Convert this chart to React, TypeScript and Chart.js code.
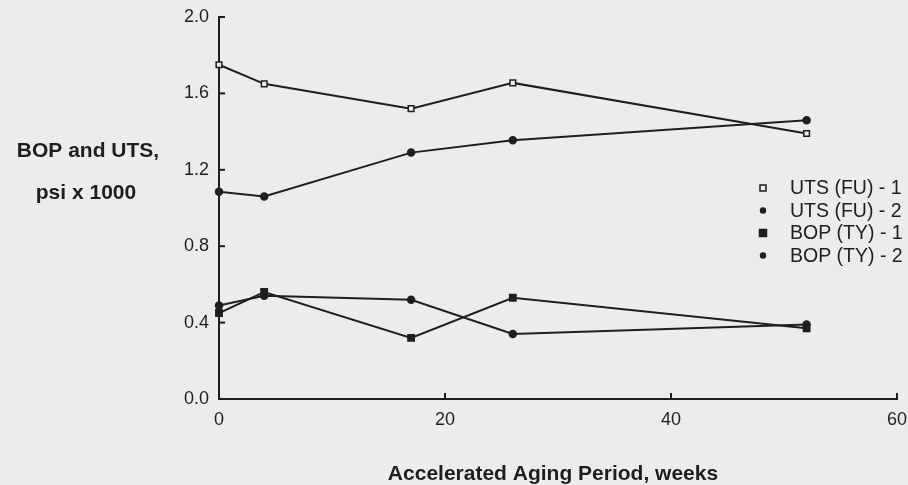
import React, { useEffect, useRef } from "react";
import { Chart, registerables } from "chart.js";

Chart.register(...registerables);

const weeks = [0, 4, 17, 26, 52];
const utsFu1 = [1.75, 1.65, 1.52, 1.655, 1.39];
const utsFu2 = [1.085, 1.06, 1.29, 1.355, 1.46];
const bopTy1 = [0.45, 0.56, 0.32, 0.53, 0.37];
const bopTy2 = [0.49, 0.54, 0.52, 0.34, 0.39];
const seriesLabels = ["UTS (FU) - 1", "UTS (FU) - 2", "BOP (TY) - 1", "BOP (TY) - 2"];
const xTicks = [0, 20, 40, 60];
const yTicks = [0, 0.4, 0.8, 1.2, 1.6, 2.0];
const yTitle = ["BOP and UTS,", "psi x 1000"];
const xTitle = "Accelerated Aging Period, weeks";

const INK = "#1e1e1e";
const BG = "#eeecea";
const FONT = "'Liberation Sans', Arial, sans-serif";

export default function App() {
  const ref = useRef<HTMLCanvasElement | null>(null);
  useEffect(() => {
    if (!ref.current) return;
    const mk = (vals: number[]) => weeks.map((w, i) => ({ x: w, y: vals[i] }));
    const styles = [
      { ps: "rect", fill: BG, r: 4 },
      { ps: "circle", fill: INK, r: 3.5 },
      { ps: "rect", fill: INK, r: 4.5 },
      { ps: "circle", fill: INK, r: 3.5 },
    ];
    const all = [utsFu1, utsFu2, bopTy1, bopTy2];
    const datasets = all.map((vals, i) => ({
      label: seriesLabels[i],
      data: mk(vals),
      borderColor: INK,
      borderWidth: 2,
      pointStyle: styles[i].ps as any,
      pointRadius: styles[i].r,
      pointBackgroundColor: styles[i].fill,
      pointBorderColor: INK,
      pointBorderWidth: 1.5,
      showLine: true,
      fill: false,
      tension: 0,
      clip: false as any,
    }));

    const deco = {
      id: "deco",
      beforeDraw(chart: any) {
        const c = chart.ctx;
        c.save();
        c.fillStyle = BG;
        c.fillRect(0, 0, chart.width, chart.height);
        c.restore();
      },
      afterDraw(chart: any) {
        const c = chart.ctx;
        const xs = chart.scales.x;
        const ys = chart.scales.y;
        const area = chart.chartArea;
        c.save();
        c.strokeStyle = INK;
        c.lineWidth = 2;
        // inward tick marks
        yTicks.forEach((v) => {
          const py = ys.getPixelForValue(v);
          c.beginPath();
          c.moveTo(area.left - 1, py);
          c.lineTo(area.left + 6, py);
          c.stroke();
        });
        xTicks.forEach((v) => {
          const px = xs.getPixelForValue(v);
          c.beginPath();
          c.moveTo(px, area.bottom + 1);
          c.lineTo(px, area.bottom - 6);
          c.stroke();
        });
        // y title
        c.fillStyle = INK;
        c.font = "bold 21px " + FONT;
        c.textAlign = "center";
        c.textBaseline = "middle";
        c.fillText(yTitle[0], 88, 151);
        c.fillText(yTitle[1], 86, 193);
        // x title
        c.fillText(xTitle, 553, 474);
        // legend
        c.font = "19.5px " + FONT;
        c.textAlign = "left";
        const lx = 763;
        const ly0 = 188;
        const step = 22.5;
        chart.data.datasets.forEach((ds: any, i: number) => {
          const y = ly0 + i * step;
          const st = styles[i];
          c.lineWidth = 1.5;
          c.strokeStyle = INK;
          if (st.ps === "rect") {
            const s = i === 0 ? 6 : 7;
            c.fillStyle = st.fill;
            c.fillRect(lx - s / 2, y - s / 2, s, s);
            c.strokeRect(lx - s / 2, y - s / 2, s, s);
          } else {
            c.fillStyle = INK;
            c.beginPath();
            c.arc(lx, y, 3.2, 0, Math.PI * 2);
            c.fill();
          }
          c.fillStyle = INK;
          c.fillText(ds.label, 790, y + 1);
        });
        c.restore();
      },
    };

    const chart = new Chart(ref.current, {
      type: "scatter",
      data: { datasets },
      options: {
        responsive: false,
        animation: false,
        layout: { padding: { top: 17, right: 11, left: 0, bottom: 0 } },
        plugins: { legend: { display: false }, tooltip: { enabled: false } },
        scales: {
          x: {
            type: "linear",
            min: 0,
            max: 60,
            afterFit: (s: any) => {
              s.height = 86;
              s.paddingLeft = 0;
              s.paddingRight = 0;
            },
            afterBuildTicks: (s: any) => {
              s.ticks = xTicks.map((v) => ({ value: v }));
            },
            grid: { display: false, drawTicks: false },
            border: { display: true, color: INK, width: 2 },
            ticks: {
              color: INK,
              font: { size: 18, family: FONT },
              padding: 10,
              callback: (v: any) => String(v),
            },
          },
          y: {
            type: "linear",
            min: 0,
            max: 2,
            afterFit: (s: any) => {
              s.width = 219;
              s.paddingTop = 0;
              s.paddingBottom = 0;
            },
            afterBuildTicks: (s: any) => {
              s.ticks = yTicks.map((v) => ({ value: v }));
            },
            grid: { display: false, drawTicks: false },
            border: { display: true, color: INK, width: 2 },
            ticks: {
              color: INK,
              font: { size: 18, family: FONT },
              padding: 10,
              callback: (v: any) => Number(v).toFixed(1),
            },
          },
        },
      },
      plugins: [deco],
    });
    return () => chart.destroy();
  }, []);

  return (
    <div style={{ position: "fixed", left: 0, top: 0, width: 908, height: 485, background: BG }}>
      <canvas ref={ref} width={908} height={485} style={{ display: "block" }} />
    </div>
  );
}
